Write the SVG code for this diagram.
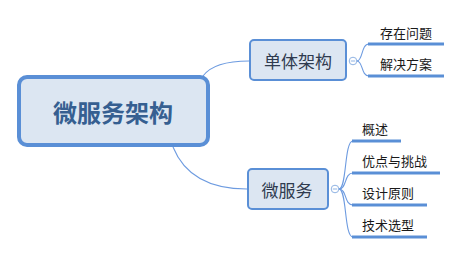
<svg xmlns="http://www.w3.org/2000/svg" width="462" height="254" viewBox="0 0 462 254">
<style>
text{font-family:"Microsoft YaHei","Noto Sans CJK SC","Noto Sans",sans-serif;dominant-baseline:central}
.conn{fill:none;stroke:#6d9be0;stroke-width:1.1}
.ul{stroke:#5a8fd6;stroke-width:3;fill:none}
.box{fill:#dce6f2;stroke:#5a8fd6;stroke-width:2}
.tog{fill:#fff;stroke:#8fb3e3;stroke-width:1}
.leaf{font-size:13px;fill:#1a1a1a}
.mid{font-size:17px;fill:#2f3b4f;text-anchor:middle}
</style>
<g id="connectors">
<path class="conn" d="M203,76 Q214,61 249,61"/>
<path class="conn" d="M173,147 Q190,189 247,189"/>
<path class="conn" d="M357,61 C363,61 361,44 369,44"/>
<path class="conn" d="M357,61 C363,61 361,76 369,76"/>
<path class="conn" d="M339,189 C347,189 344,141 353,141"/>
<path class="conn" d="M339,189 C347,189 344,173 353,173"/>
<path class="conn" d="M339,189 C347,189 344,205 353,205"/>
<path class="conn" d="M339,189 C347,189 344,237 353,237"/>
</g>
<g id="root">
<rect x="19" y="77" width="189" height="68" rx="8" fill="#dce6f2" stroke="#5a8fd6" stroke-width="4"/>
<text x="113" y="111" font-size="24" font-weight="bold" fill="#365f91" text-anchor="middle">微服务架构</text>
</g>
<g id="monolith">
<rect class="box" x="250" y="40" width="96" height="40" rx="4"/>
<text class="mid" x="298" y="60">单体架构</text>
<circle class="tog" cx="353" cy="61" r="3.8"/>
<line x1="350.8" y1="61" x2="355.2" y2="61" stroke="#8fb3e3" stroke-width="1"/>
</g>
<g id="monolith-problems">
<text class="leaf" x="380" y="32">存在问题</text>
<line class="ul" x1="368" y1="44" x2="444" y2="44"/>
</g>
<g id="monolith-solutions">
<text class="leaf" x="380" y="63">解决方案</text>
<line class="ul" x1="368" y1="76" x2="444" y2="76"/>
</g>
<g id="microservice">
<rect class="box" x="248" y="169" width="80" height="40" rx="4"/>
<text class="mid" x="287" y="189">微服务</text>
<circle class="tog" cx="335" cy="189" r="3.8"/>
<line x1="332.8" y1="189" x2="337.2" y2="189" stroke="#8fb3e3" stroke-width="1"/>
</g>
<g id="overview">
<text class="leaf" x="362" y="128">概述</text>
<line class="ul" x1="352" y1="141" x2="401" y2="141"/>
</g>
<g id="pros-cons">
<text class="leaf" x="362" y="160">优点与挑战</text>
<line class="ul" x1="352" y1="173" x2="440" y2="173"/>
</g>
<g id="principles">
<text class="leaf" x="362" y="192">设计原则</text>
<line class="ul" x1="352" y1="205" x2="427" y2="205"/>
</g>
<g id="tech">
<text class="leaf" x="362" y="224">技术选型</text>
<line class="ul" x1="352" y1="237" x2="427" y2="237"/>
</g>
</svg>
